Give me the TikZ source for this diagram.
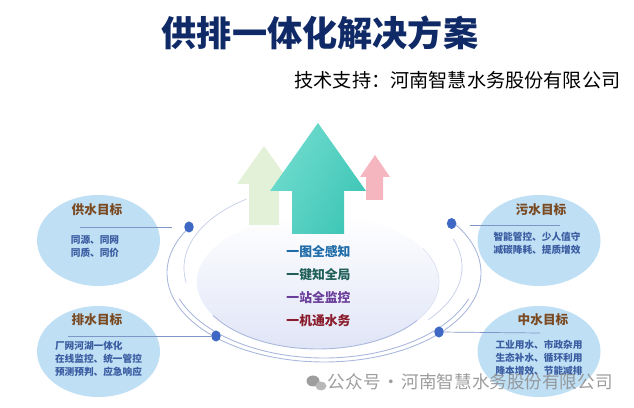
\documentclass[tikz,border=0pt]{standalone}
\usepackage{fontspec}
\setmainfont{Noto Sans CJK SC}
\definecolor{titleblue}{HTML}{0F2A66}
\definecolor{goalfill}{HTML}{BFDFF5}
\definecolor{goalhead}{HTML}{7A4A22}
\definecolor{goalbody}{HTML}{3A5CA0}
\definecolor{dotblue}{HTML}{3F68C4}
\definecolor{ringblue}{HTML}{A9B7DC}
\definecolor{leadblue}{HTML}{7F97C8}
\definecolor{discblue}{HTML}{E0E5F7}
\definecolor{discmid}{HTML}{FAFBFE}
\definecolor{greenup}{HTML}{E3F1D8}
\definecolor{pinkup}{HTML}{F5B6C0}
\definecolor{tealleft}{HTML}{70DCCF}
\definecolor{tealright}{HTML}{3FC6B6}
\definecolor{linea}{HTML}{1F6CA8}
\definecolor{lineb}{HTML}{1F5F58}
\definecolor{linec}{HTML}{6A3D9A}
\definecolor{lined}{HTML}{8A1C2C}
\tikzset{
  goal/.style={shape=ellipse,fill=goalfill,minimum width=123\unitpx,minimum height=91\unitpx,inner sep=0pt},
  goalhd/.style={font=\fontsize{7.2}{9}\selectfont\bfseries,text=goalhead,inner sep=0pt},
  goaltxt/.style={font=\fontsize{5.5}{7.4}\selectfont\bfseries,text=goalbody,align=left,inner sep=0pt},
  dotn/.style={shape=ellipse,fill=dotblue,minimum width=9.5\unitpx,minimum height=11\unitpx,inner sep=0pt},
  centertxt/.style={font=\fontsize{7.3}{9}\selectfont\bfseries,inner sep=0pt},
}
\newcommand{\unitpx}{*0.2mm}
\newcommand{\ringarc}[7]{\draw[#7] plot[domain=#5:#6,samples=80,smooth] ({#1+#3*cos(\x)},{#2+#4*sin(\x)});}
\usetikzlibrary{shapes.geometric}
\begin{document}
\begin{tikzpicture}[x=0.2mm,y=-0.2mm]
        \useasboundingbox (0,0) rectangle (634,408);
        %disc
        \shade[top color=white,middle color=discmid,bottom color=discblue] (318,282) ellipse (121 and 67);
        \ringarc{318}{282}{121}{67}{35}{150}{ringblue,line width=0.5pt}
        \ringarc{318}{282}{121}{67}{-30}{35}{ringblue!40,line width=0.4pt}
        %rings
        \ringarc{324}{273}{157}{89}{-35}{211}{ringblue,line width=0.5pt}
        \ringarc{324}{268}{154}{90}{20}{160}{ringblue,line width=0.5pt}
        \ringarc{318}{267}{144}{82}{-20}{40}{ringblue!70,line width=0.4pt}
        \ringarc{330}{268}{146}{84}{170}{235}{ringblue!70,line width=0.4pt}
        %arrows
        \fill[greenup] (264,146) -- (291,184) -- (279,184) -- (279,225) -- (249,225) -- (249,184) -- (237,184) -- cycle;
        \fill[pinkup] (375,155) -- (390,177) -- (383,177) -- (383,200) -- (366,200) -- (366,177) -- (360,177) -- cycle;
        \shade[left color=tealleft,right color=tealright,shading angle=60] (318,123) -- (366,191) -- (344,191) -- (344,234) -- (292,234) -- (292,191) -- (270,191) -- cycle;
        %nodes
        \node[goal] (gong) at (98.5,240.5) {};
        \node[goal] (pai) at (98.5,351.5) {};
        \node[goal] (wu) at (539,240.5) {};
        \node[goal] (zhong) at (539,351.5) {};
        \node[dotn] (gongdot) at (189,227) {};
        \node[dotn] (paidot) at (216,336) {};
        \node[dotn] (wudot) at (451.6,223.5) {};
        \node[dotn] (zhongdot) at (439,332) {};
        \coordinate (gongbeg) at (172,227);
        \coordinate (gongend) at (80,227);
        \coordinate (paiend) at (68,336);
        \coordinate (wubeg) at (470,225);
        \coordinate (wuend) at (560,225);
        \coordinate (zhongend) at (540,333);
        %leaders
        \draw[leadblue,line width=0.4pt] (gongbeg) -- (gongend);
        \draw[leadblue,line width=0.4pt] (paidot) -- (paiend);
        \draw[leadblue,line width=0.4pt] (wubeg) -- (wuend);
        \draw[leadblue,line width=0.4pt] (zhongdot) -- (zhongend);
        %text
        \node[font=\fontsize{20}{24}\selectfont\bfseries,text=titleblue,inner sep=0pt] (title) at (320,33) {供排一体化解决方案};
        \node[font=\fontsize{10.9}{13}\selectfont,inner sep=0pt] (sub) at (457.5,80) {技术支持：河南智慧水务股份有限公司};
        \node[goalhd] (gonghd) at (97,210) {供水目标};
        \node[goalhd] (paihd) at (97,320) {排水目标};
        \node[goalhd] (wuhd) at (541,210) {污水目标};
        \node[goalhd] (zhonghd) at (543,320) {中水目标};
        \node[goaltxt] (gongtxt) at (95,246) {同源、同网\\同质、同价};
        \node[goaltxt] (paitxt) at (98.5,358.5) {厂网河湖一体化\\在线监控、统一管控\\预测预判、应急响应};
        \node[goaltxt] (wutxt) at (537,243) {智能管控、少人值守\\减碳降耗、提质增效};
        \node[goaltxt] (zhongtxt) at (539,357.5) {工业用水、市政杂用\\生态补水、循环利用\\降本增效、节能减排};
        \node[centertxt,text=linea] (ca) at (318.5,251.7) {一图全感知};
        \node[centertxt,text=lineb] (cb) at (318.5,274.3) {一键知全局};
        \node[centertxt,text=linec] (cc) at (318.5,297.5) {一站全监控};
        \node[centertxt,text=lined] (cd) at (318.5,320.5) {一机通水务};
        %watermark
        \fill[black!38] (313,381) ellipse (6.5 and 5.5);
        \fill[black!28] (321,386) ellipse (5.5 and 4.5);
        \node[font=\fontsize{10}{12}\selectfont,text=black!45,opacity=0.85,inner sep=0pt,anchor=east] (mark) at (613,382) {公众号\hspace{1pt}·\hspace{1pt}河南智慧水务股份有限公司};
\end{tikzpicture}
\end{document}
